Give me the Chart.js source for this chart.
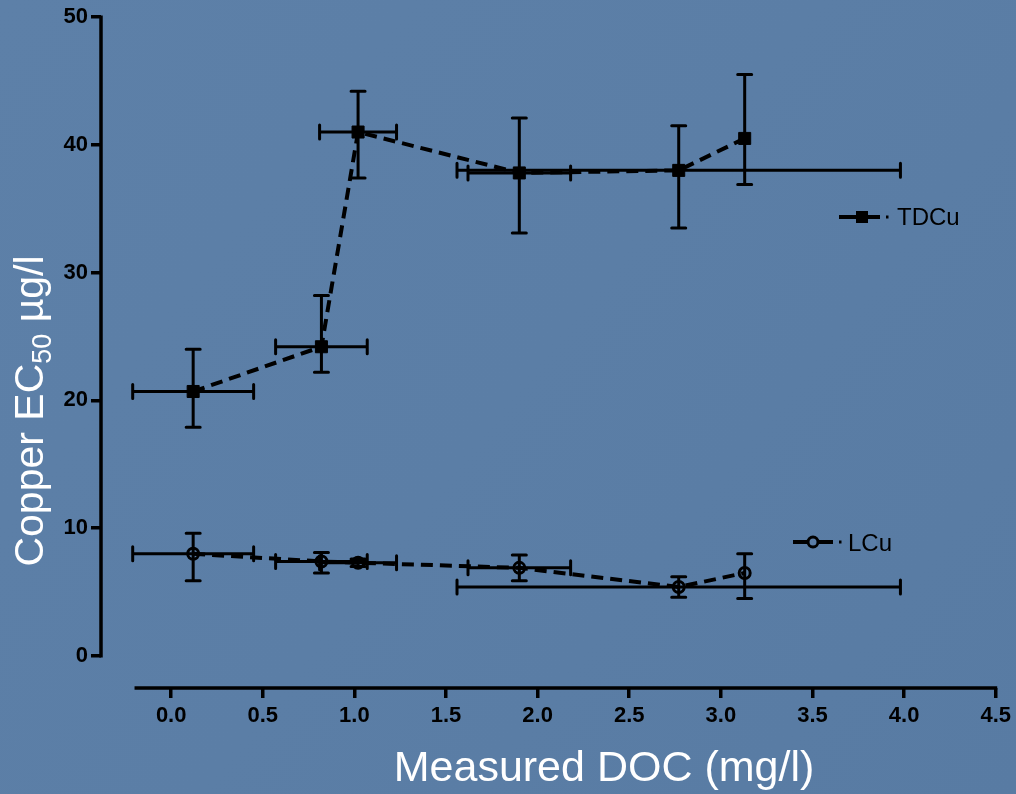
<!DOCTYPE html>
<html><head><meta charset="utf-8">
<script src="https://cdn.jsdelivr.net/npm/chart.js@4/dist/chart.umd.min.js"></script>
<style>html,body{margin:0;padding:0;background:#5a7da6;overflow:hidden}#wrap{width:1016px;height:794px;position:relative}</style>
</head><body><div id="wrap"><canvas id="c" width="1016" height="794"></canvas></div>
<script>
// ---- data ----
const docX     = [0.12, 0.82, 1.02, 1.90, 2.77, 3.13];
const docXLow  = [-0.21, 0.57, 0.81, 1.62, 1.56, 3.13];
const docXHigh = [0.45, 1.07, 1.23, 2.18, 3.98, 3.13];
const tdcuY    = [20.7, 24.2, 41.0, 37.8, 38.0, 40.5];
const tdcuLow  = [17.9, 22.2, 37.4, 33.1, 33.5, 36.9];
const tdcuHigh = [24.0, 28.2, 44.2, 42.1, 41.5, 45.5];
const lcuY     = [8.0, 7.4, 7.3, 6.9, 5.4, 6.5];
const lcuLow   = [5.9, 6.5, 7.0, 5.9, 4.6, 4.5];
const lcuHigh  = [9.6, 8.1, 7.6, 7.9, 6.2, 8.0];
const xTicks = [0, 0.5, 1, 1.5, 2, 2.5, 3, 3.5, 4, 4.5];
const yTicks = [0, 10, 20, 30, 40, 50];
const seriesNames = ['TDCu', 'LCu'];
const xTitle = 'Measured DOC (mg/l)';
const yTitleParts = ['Copper EC', '50', ' µg/l'];

const FONT = '"Liberation Sans", Arial, sans-serif';
const BG = '#5a7da6';

function mk(ys, lo, hi) {
  return docX.map((x, i) => ({x: x, y: ys[i], xMin: docXLow[i], xMax: docXHigh[i], yMin: lo[i], yMax: hi[i]}));
}

const bgPlugin = {
  id: 'bg',
  beforeDraw(chart) {
    const ctx = chart.ctx;
    ctx.save();
    const g = ctx.createLinearGradient(0, 0, chart.width, chart.height);
    g.addColorStop(0, '#5d80a8');
    g.addColorStop(0.5, '#5b7ea6');
    g.addColorStop(1, '#587ba3');
    ctx.fillStyle = g;
    ctx.fillRect(0, 0, chart.width, chart.height);
    ctx.restore();
  }
};

const axisLinePlugin = {
  id: 'axisLines',
  afterDraw(chart) {
    const {ctx, chartArea, scales} = chart;
    const xs = scales.x, ys = scales.y;
    ctx.save();
    ctx.strokeStyle = '#000';
    ctx.lineWidth = 3.5;
    ctx.lineCap = 'butt';
    ctx.beginPath();
    ctx.moveTo(chartArea.left, ys.getPixelForValue(yTicks[yTicks.length - 1]) - 1.5);
    ctx.lineTo(chartArea.left, ys.getPixelForValue(yTicks[0]) + 1.5);
    ctx.stroke();
    ctx.beginPath();
    ctx.moveTo(xs.getPixelForValue(-0.2), chartArea.bottom);
    ctx.lineTo(xs.getPixelForValue(xTicks[xTicks.length - 1]) + 1.5, chartArea.bottom);
    ctx.stroke();
    ctx.restore();
  }
};

const errorPlugin = {
  id: 'errorBars',
  beforeDatasetsDraw(chart) {
    const {ctx, scales} = chart;
    const xs = scales.x, ys = scales.y;
    ctx.save();
    ctx.strokeStyle = '#000';
    ctx.lineWidth = 3;
    ctx.lineCap = 'round';
    const cap = 7;
    chart.data.datasets.forEach(ds => {
      ds.data.forEach(p => {
        const px = xs.getPixelForValue(p.x), py = ys.getPixelForValue(p.y);
        const yt = ys.getPixelForValue(p.yMax), yb = ys.getPixelForValue(p.yMin);
        ctx.beginPath();
        ctx.moveTo(px, yt); ctx.lineTo(px, yb);
        ctx.moveTo(px - cap, yt); ctx.lineTo(px + cap, yt);
        ctx.moveTo(px - cap, yb); ctx.lineTo(px + cap, yb);
        ctx.stroke();
        if (p.xMax > p.xMin) {
          const xl = xs.getPixelForValue(p.xMin), xr = xs.getPixelForValue(p.xMax);
          ctx.beginPath();
          ctx.moveTo(xl, py); ctx.lineTo(xr, py);
          ctx.moveTo(xl, py - cap); ctx.lineTo(xl, py + cap);
          ctx.moveTo(xr, py - cap); ctx.lineTo(xr, py + cap);
          ctx.stroke();
        }
      });
    });
    ctx.restore();
  }
};

const textPlugin = {
  id: 'texts',
  afterDraw(chart) {
    const ctx = chart.ctx;
    ctx.save();
    // x title
    ctx.fillStyle = '#ffffff';
    ctx.font = '43px ' + FONT;
    ctx.textAlign = 'center';
    ctx.textBaseline = 'alphabetic';
    ctx.fillText(xTitle, 604, 781);
    // y title with subscript
    ctx.translate(43, 411);
    ctx.rotate(-Math.PI / 2);
    const big = '41px ' + FONT, small = '27px ' + FONT;
    ctx.font = big; const w0 = ctx.measureText(yTitleParts[0]).width;
    ctx.font = small; const w1 = ctx.measureText(yTitleParts[1]).width;
    ctx.font = big; const w2 = ctx.measureText(yTitleParts[2]).width;
    let x0 = -(w0 + w1 + w2) / 2;
    ctx.textAlign = 'left';
    ctx.font = big; ctx.fillText(yTitleParts[0], x0, 0);
    ctx.font = small; ctx.fillText(yTitleParts[1], x0 + w0, 8);
    ctx.font = big; ctx.fillText(yTitleParts[2], x0 + w0 + w1, 0);
    ctx.restore();

    // legends
    ctx.save();
    ctx.strokeStyle = '#000';
    ctx.fillStyle = '#000';
    // TDCu
    ctx.lineWidth = 4;
    ctx.beginPath(); ctx.moveTo(839, 217); ctx.lineTo(880, 217); ctx.stroke();
    ctx.fillRect(856, 211, 12, 12);
    ctx.fillRect(886, 215.5, 2.5, 3);
    ctx.font = '24px ' + FONT;
    ctx.textAlign = 'left';
    ctx.fillText(seriesNames[0], 897, 225);
    // LCu
    ctx.beginPath(); ctx.moveTo(793, 542); ctx.lineTo(833, 542); ctx.stroke();
    ctx.fillStyle = BG;
    ctx.beginPath(); ctx.arc(813, 542, 5, 0, Math.PI * 2); ctx.fill();
    ctx.lineWidth = 3;
    ctx.beginPath(); ctx.arc(813, 542, 5, 0, Math.PI * 2); ctx.stroke();
    ctx.fillStyle = '#000';
    ctx.fillRect(839, 540.5, 2.5, 3);
    ctx.fillText(seriesNames[1], 848, 551);
    ctx.restore();
  }
};

const tickCommon = {
  color: '#000',
  font: {family: FONT, size: 22, weight: 'bold'},
  autoSkip: false,
  maxRotation: 0,
};
const gridCommon = {
  drawOnChartArea: false,
  drawTicks: true,
  tickLength: 10,
  color: '#000',
  lineWidth: 3.5,
};

new Chart(document.getElementById('c'), {
  type: 'scatter',
  data: {
    datasets: [
      {
        label: seriesNames[0],
        data: mk(tdcuY, tdcuLow, tdcuHigh),
        showLine: true,
        borderColor: '#000',
        borderWidth: 4,
        borderDash: [12, 7],
        pointStyle: 'rect',
        pointRadius: 8.5,
        pointBorderWidth: 1,
        pointBackgroundColor: '#000',
        pointBorderColor: '#000',
      },
      {
        label: seriesNames[1],
        data: mk(lcuY, lcuLow, lcuHigh),
        showLine: true,
        borderColor: '#000',
        borderWidth: 4,
        borderDash: [12, 7],
        pointStyle: 'circle',
        pointRadius: 5.5,
        pointBorderWidth: 3,
        pointBackgroundColor: 'rgba(0,0,0,0)',
        pointBorderColor: '#000',
      }
    ]
  },
  options: {
    responsive: false,
    animation: false,
    events: [],
    layout: {padding: {top: 17, right: 19, left: 0, bottom: 0}},
    plugins: {legend: {display: false}, tooltip: {enabled: false}, title: {display: false}},
    scales: {
      x: {
        type: 'linear',
        min: -0.383,
        max: 4.5,
        afterBuildTicks: s => { s.ticks = xTicks.map(v => ({value: v})); },
        afterFit: s => { s.height = 106; },
        ticks: Object.assign({}, tickCommon, {padding: 5, callback: v => Number(v).toFixed(1)}),
        grid: gridCommon,
        border: {display: false},
      },
      y: {
        type: 'linear',
        min: -2.5,
        max: 50,
        afterBuildTicks: s => { s.ticks = yTicks.map(v => ({value: v})); },
        afterFit: s => { s.width = 101; },
        ticks: Object.assign({}, tickCommon, {padding: 3, callback: v => String(v)}),
        grid: gridCommon,
        border: {display: false},
      }
    }
  },
  plugins: [bgPlugin, errorPlugin, axisLinePlugin, textPlugin]
});
</script>
</body></html>
